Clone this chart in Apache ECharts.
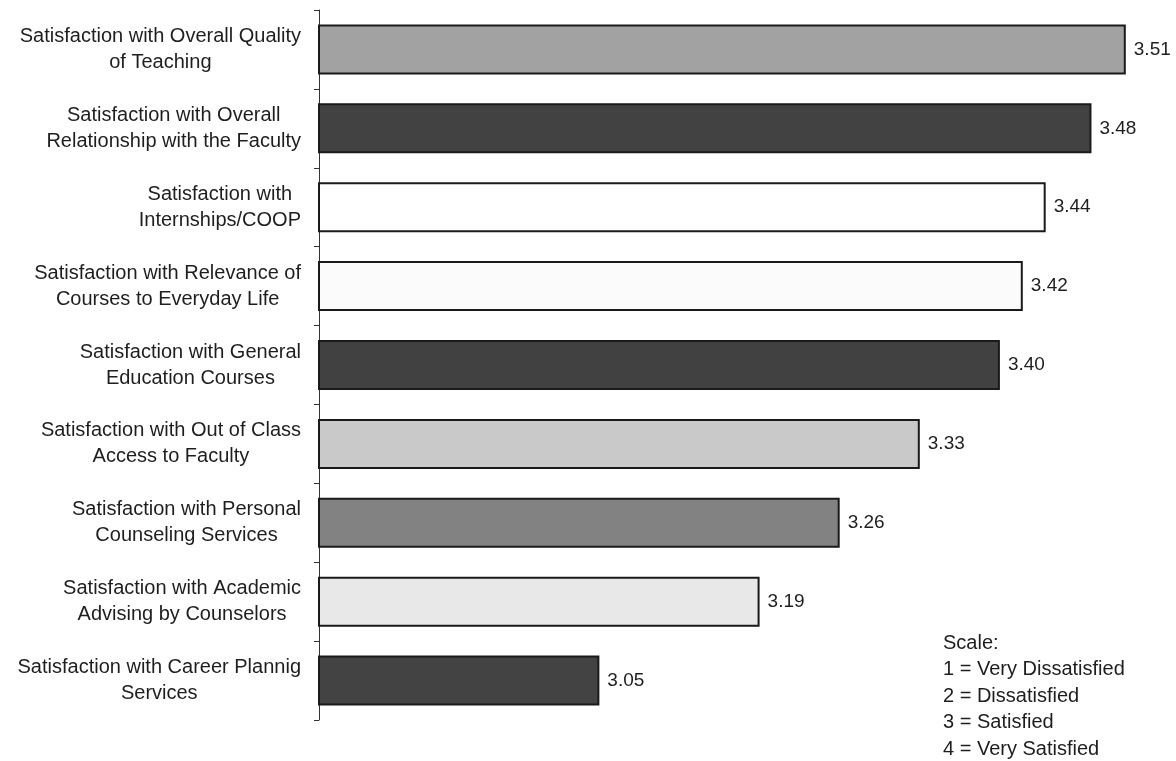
<!DOCTYPE html>
<html>
<head>
<meta charset="utf-8">
<title>Student Satisfaction</title>
<script src="https://cdn.jsdelivr.net/npm/echarts@6/dist/echarts.min.js"></script>
<style>
  html, body { margin: 0; padding: 0; background: #ffffff; }
  #chart { width: 1176px; height: 761px; }
</style>
</head>
<body>
<div id="chart"></div>
<script>
// Survey items, top to bottom
const categories = [
  'Satisfaction with Overall Quality\nof Teaching',
  'Satisfaction with Overall\nRelationship with the Faculty',
  'Satisfaction with\nInternships/COOP',
  'Satisfaction with Relevance of\nCourses to Everyday Life',
  'Satisfaction with General\nEducation Courses',
  'Satisfaction with Out of Class\nAccess to Faculty',
  'Satisfaction with Personal\nCounseling Services',
  'Satisfaction with Academic\nAdvising by Counselors',
  'Satisfaction with Career Plannig\nServices'
];

// Mean satisfaction score per item
const meanScores = [3.51, 3.48, 3.44, 3.42, 3.40, 3.33, 3.26, 3.19, 3.05];

// Fill shade per bar
const barFills = ['#a2a2a2', '#424242', '#ffffff', '#fbfbfb', '#414141', '#c9c9c9', '#828282', '#e8e8e8', '#434343'];

// Rating scale key
const scaleLines = ['Scale:', '1 = Very Dissatisfied', '2 = Dissatisfied', '3 = Satisfied', '4 = Very Satisfied'];

const FONT = '"Liberation Sans", Arial, Helvetica, sans-serif';
const TEXT = '#1e1e1e';

const chart = echarts.init(document.getElementById('chart'), null, { renderer: 'canvas' });

chart.setOption({
  backgroundColor: '#ffffff',
  animation: false,
  grid: { left: 319, top: 10, width: 856, bottom: 41, containLabel: false },
  xAxis: {
    type: 'value',
    min: 2.805,
    max: 3.553,
    show: false,
    splitLine: { show: false }
  },
  yAxis: {
    type: 'category',
    inverse: true,
    data: categories,
    axisLine: { show: true, lineStyle: { color: '#333333', width: 1 } },
    axisTick: { show: true, length: 5, lineStyle: { color: '#333333', width: 1 } },
    axisLabel: {
      margin: 18,
      align: 'right',
      formatter: function (v) {
        return v.split('\n').map(function (s) { return '{c|' + s + '}'; }).join('\n');
      },
      rich: {
        c: {
          align: 'center',
          fontFamily: FONT,
          fontSize: 20,
          lineHeight: 26,
          color: TEXT
        }
      }
    },
    splitLine: { show: false }
  },
  series: [{
    type: 'bar',
    barWidth: 50,
    data: meanScores.map(function (v, i) {
      return {
        value: v,
        itemStyle: { color: barFills[i] }
      };
    }),
    itemStyle: { borderColor: '#1a1a1a', borderWidth: 2 },
    label: {
      show: true,
      position: 'right',
      distance: 8,
      formatter: function (p) { return p.value.toFixed(2); },
      fontFamily: FONT,
      fontSize: 19,
      color: TEXT
    }
  }],
  graphic: [{
    type: 'text',
    left: 943,
    top: 630,
    style: {
      text: scaleLines.join('\n'),
      font: '20px ' + FONT,
      lineHeight: 26.5,
      fill: TEXT
    }
  }]
});
</script>
</body>
</html>
